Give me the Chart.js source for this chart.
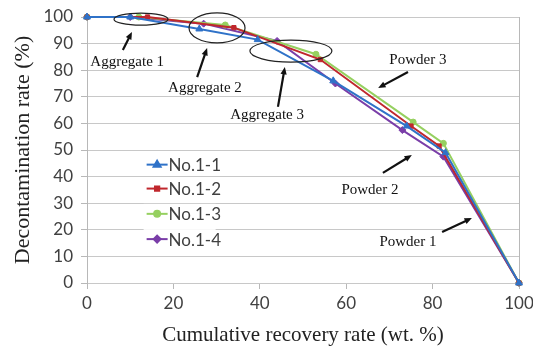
<!DOCTYPE html>
<html>
<head>
<meta charset="utf-8">
<script src="https://cdn.jsdelivr.net/npm/chart.js@4"></script>
<style>
  html, body { margin: 0; padding: 0; background: #fff; }
  #wrap { width: 533px; height: 348px; }
</style>
</head>
<body>
<div id="wrap"><canvas id="plot" width="533" height="348"></canvas></div>
<script>
// values (x = cumulative recovery %, y = decontamination %)
const seriesNames = ['No.1-1', 'No.1-2', 'No.1-3', 'No.1-4'];
const x11 = [0, 10, 26, 39.5, 57, 74, 83, 100];
const y11 = [100, 100, 95.5, 91.5, 76, 59, 49, 0];
const x12 = [0, 14, 34, 54, 75, 81.5, 100];
const y12 = [100, 100, 96, 84, 59, 51.5, 0];
const x13 = [0, 12, 32, 53, 75.5, 82.5, 100];
const y13 = [100, 100, 97, 86, 60.5, 52.5, 0];
const x14 = [0, 10, 27, 44, 57.5, 73, 82.5, 100];
const y14 = [100, 100, 97.5, 91, 75, 57.5, 47.5, 0];
const xTicks = [0, 20, 40, 60, 80, 100];
const yTicks = [0, 10, 20, 30, 40, 50, 60, 70, 80, 90, 100];

// annotation labels: [text, x, y] in data units, arrows: [x0, y0, x1, y1]
const labels = [
    ['Aggregate 1', 9.3, 83.1],
    ['Aggregate 2', 27.3, 73.3],
    ['Aggregate 3', 41.7, 63.2],
    ['Powder 3', 76.6, 83.8],
    ['Powder 2', 65.5, 35],
    ['Powder 1', 74.3, 15.4]
];
const arrows = [
    [8.3, 87.6, 10.4, 94.4],
    [25.5, 77.4, 27.8, 88.3],
    [44.2, 66.2, 45.8, 81.2],
    [74.3, 79.3, 67.4, 73.3],
    [68.5, 41.4, 75.2, 48.1],
    [82.2, 19.2, 89.1, 24.4]
];
// ellipses: [cx, cy, rx, ry] (cx, cy in data units, radii in px)
const ellipses = [
    [12.5, 99.2, 27, 6],
    [30.1, 95.9, 28, 15],
    [47.2, 87.2, 41, 11]
];
// legend rows, in data units of y
const legendX = 13.8;
const legendY = [44.5, 35.5, 26, 16.5];

function pts(xs, ys) {
    return xs.map((v, i) => ({ x: v, y: ys[i] }));
}

const colors = ['#2f72c8', '#c0272d', '#96d060', '#7a3ea8'];
const shapes = ['triangle', 'rect', 'circle', 'rectRot'];
const radii = [4, 3, 3, 3.5];
const allData = [pts(x11, y11), pts(x12, y12), pts(x13, y13), pts(x14, y14)];

const overlay = {
    id: 'overlay',
    afterDatasetsDraw(chart) {
        const c = chart.ctx;
        const xs = chart.scales.x, ys = chart.scales.y;
        c.save();
        // ellipses
        c.strokeStyle = '#222';
        c.lineWidth = 1.2;
        ellipses.forEach(e => {
            c.beginPath();
            c.ellipse(xs.getPixelForValue(e[0]), ys.getPixelForValue(e[1]), e[2], e[3], 0, 0, Math.PI * 2);
            c.stroke();
        });
        // arrows
        c.fillStyle = '#111';
        c.strokeStyle = '#111';
        c.lineWidth = 2.2;
        arrows.forEach(a => {
            const x0 = xs.getPixelForValue(a[0]), y0 = ys.getPixelForValue(a[1]);
            const x1 = xs.getPixelForValue(a[2]), y1 = ys.getPixelForValue(a[3]);
            const ang = Math.atan2(y1 - y0, x1 - x0);
            const hl = 8;
            c.beginPath();
            c.moveTo(x0, y0);
            c.lineTo(x1 - Math.cos(ang) * hl * 0.7, y1 - Math.sin(ang) * hl * 0.7);
            c.stroke();
            c.beginPath();
            c.moveTo(x1, y1);
            c.lineTo(x1 - hl * Math.cos(ang - 0.4), y1 - hl * Math.sin(ang - 0.4));
            c.lineTo(x1 - hl * Math.cos(ang + 0.4), y1 - hl * Math.sin(ang + 0.4));
            c.closePath();
            c.fill();
        });
        // text labels
        c.font = '15px "Liberation Serif"';
        c.textAlign = 'center';
        c.textBaseline = 'middle';
        labels.forEach(l => {
            const px = xs.getPixelForValue(l[1]), py = ys.getPixelForValue(l[2]);
            const w = c.measureText(l[0]).width;
            c.fillStyle = '#fff';
            c.fillRect(px - w / 2 - 2, py - 8, w + 4, 16);
            c.fillStyle = '#111';
            c.fillText(l[0], px, py);
        });
        // legend inside the plot
        const lx = xs.getPixelForValue(legendX);
        chart.data.datasets.forEach((ds, i) => {
            const y = ys.getPixelForValue(legendY[i]);
            c.fillStyle = '#fff';
            c.fillRect(lx - 3, y - 10, 72, 20);
            c.strokeStyle = ds.borderColor;
            c.lineWidth = 2;
            c.beginPath();
            c.moveTo(lx, y);
            c.lineTo(lx + 21, y);
            c.stroke();
            c.fillStyle = ds.borderColor;
            Chart.helpers.drawPoint(c, {
                pointStyle: ds.pointStyle, radius: radii[i], rotation: 0, borderWidth: 1
            }, lx + 10.5, y);
            c.fillStyle = '#404040';
            c.font = '17px Lato';
            c.textAlign = 'left';
            c.fillText(ds.label, lx + 22, y + 1);
        });
        c.restore();
    }
};

const chart = new Chart(document.getElementById('plot').getContext('2d'), {
    type: 'line',
    data: {
        datasets: seriesNames.map((name, i) => ({
            label: name,
            data: allData[i],
            borderColor: colors[i],
            backgroundColor: colors[i],
            pointStyle: shapes[i],
            pointRadius: radii[i],
            pointBorderWidth: 1,
            borderWidth: 2,
            fill: false,
            tension: 0,
            clip: false
        }))
    },
    options: {
        responsive: false,
        animation: false,
        layout: { padding: { left: 0, right: 14, top: 17, bottom: 0 } },
        plugins: {
            legend: { display: false },
            tooltip: { enabled: false }
        },
        scales: {
            x: {
                type: 'linear',
                min: 0,
                max: 100,
                afterBuildTicks: s => { s.ticks = xTicks.map(v => ({ value: v })); },
                afterFit: s => { s.height = 65; s.paddingLeft = 0; s.paddingRight = 0; },
                grid: {
                    color: c => c.tick && c.tick.value === 100 ? '#b8b8b8' : 'transparent',
                    tickColor: '#b8b8b8',
                    tickLength: 6
                },
                border: { display: false },
                ticks: { color: '#404040', font: { family: 'Lato', size: 17 }, padding: 4, maxRotation: 0 },
                title: {
                    display: true,
                    text: 'Cumulative recovery rate (wt. %)',
                    color: '#222',
                    font: { family: 'Liberation Serif', size: 21 },
                    padding: { top: -3, bottom: 0 }
                }
            },
            y: {
                min: 0,
                max: 100,
                afterBuildTicks: s => { s.ticks = yTicks.map(v => ({ value: v })); },
                afterFit: s => { s.width = 87; s.paddingTop = 0; s.paddingBottom = 0; },
                grid: { color: '#c8c8c8', tickColor: '#b8b8b8', tickLength: 6 },
                border: { display: true, color: '#b8b8b8' },
                ticks: { color: '#404040', font: { family: 'Lato', size: 17 }, padding: 8 },
                title: {
                    display: true,
                    text: 'Decontamination rate (%)',
                    color: '#222',
                    font: { family: 'Liberation Serif', size: 22 },
                    padding: { top: 10, bottom: 0 }
                }
            }
        }
    },
    plugins: [overlay]
});
</script>
</body>
</html>
